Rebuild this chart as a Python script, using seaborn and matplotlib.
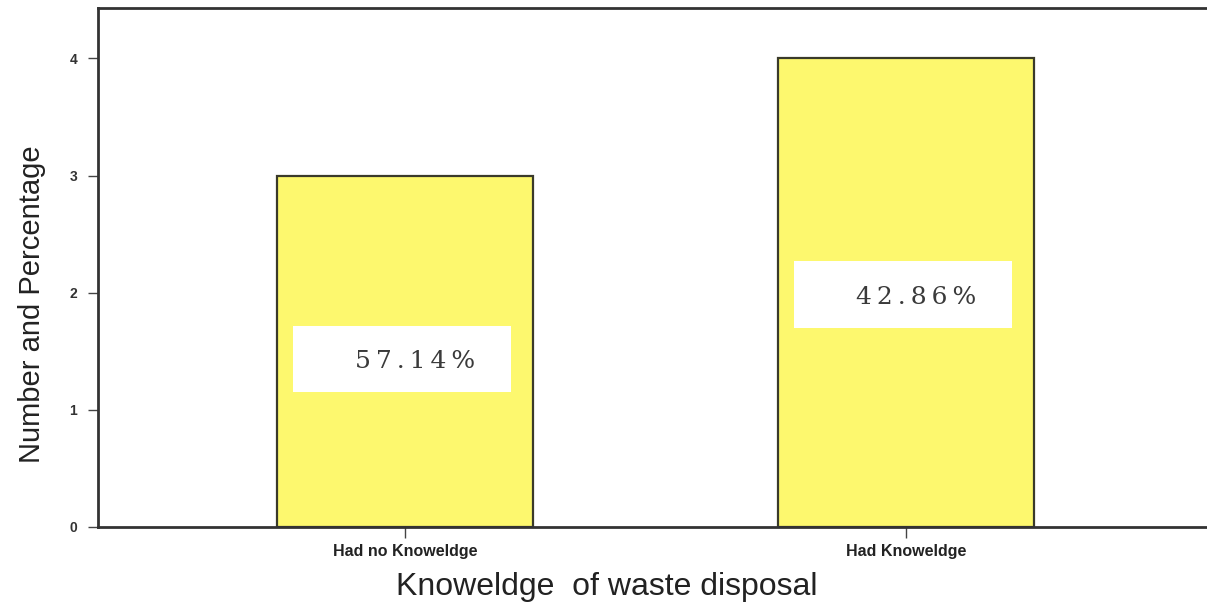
import matplotlib
matplotlib.use("Agg")
import matplotlib.pyplot as plt
from matplotlib.patches import Rectangle
from matplotlib import font_manager
import seaborn as sns
import pandas as pd

# Chart data
categories = ["Had no Knoweldge", "Had Knoweldge"]
counts = [3, 4]
percent_labels = ["57.14%", "42.86%"]
# vertical placement (in count units) of the white percentage boxes
label_box_bottom = [1.15, 1.70]

sns.set_theme(style="white")
plt.rcParams["font.family"] = ["Liberation Sans", "DejaVu Sans"]


def have_font(name):
    try:
        font_manager.findfont(name, fallback_to_default=False)
        return True
    except Exception:
        return False


narrow = have_font("Liberation Sans Narrow")

df = pd.DataFrame({"category": categories, "count": counts})

fig = plt.figure(figsize=(12.07, 6.02), dpi=100)
ax = fig.add_axes([0.0812, 0.1246, 0.9188, 0.862])

sns.barplot(data=df, x="category", y="count", color="#FDF86E",
            saturation=1, width=0.51, edgecolor="#3a3a2a", linewidth=1.6, ax=ax)

ax.set_xlim(-0.612, 1.60)
ax.set_ylim(0, 4.43)
ax.set_yticks([0, 1, 2, 3, 4])
ax.set_yticklabels(["0", "1", "2", "3", "4"], fontsize=10, fontweight="bold", color="#333333")
ax.set_xticks([0, 1])
ax.set_xticklabels(categories, fontsize=11.5, fontweight="bold", color="#222222")

ax.tick_params(axis="y", direction="out", length=7, width=1, color="#444444", pad=8, left=True)
ax.tick_params(axis="x", direction="out", length=8, width=1, color="#444444", pad=4, bottom=True)

for side in ["left", "bottom", "top"]:
    ax.spines[side].set_visible(True)
    ax.spines[side].set_color("#333333")
    ax.spines[side].set_linewidth(2)
ax.spines["right"].set_visible(False)

# White boxes carrying the percentage labels (letters spread with thin spaces)
box_w = 0.436
box_h = 0.57
for i, (lab, yb) in enumerate(zip(percent_labels, label_box_bottom)):
    ax.add_patch(Rectangle((i - 0.224, yb), box_w, box_h, facecolor="white",
                           edgecolor="none", zorder=3))
    spread = "\u2009".join(lab)
    ax.text(i + 0.02, yb + box_h * 0.46, spread, ha="center", va="center",
            fontsize=18, family=["DejaVu Serif"],
            color="#3a3a3a", zorder=4)

if narrow:
    ax.set_ylabel("Number and Percentage", fontsize=23,
                  family=["Liberation Sans Narrow"], color="#222222")
else:
    ax.set_ylabel("Number and Percentage", fontsize=21, color="#222222")
ax.yaxis.set_label_coords(-0.047, 0.43)

# Axis title sits low, right against the figure's bottom edge
ax.set_xlabel("")
fig.text(0.503, 0.012, "Knoweldge  of waste disposal", ha="center", va="baseline",
         fontsize=23, color="#222222")

fig.savefig("out.png", dpi=100, facecolor="white")
